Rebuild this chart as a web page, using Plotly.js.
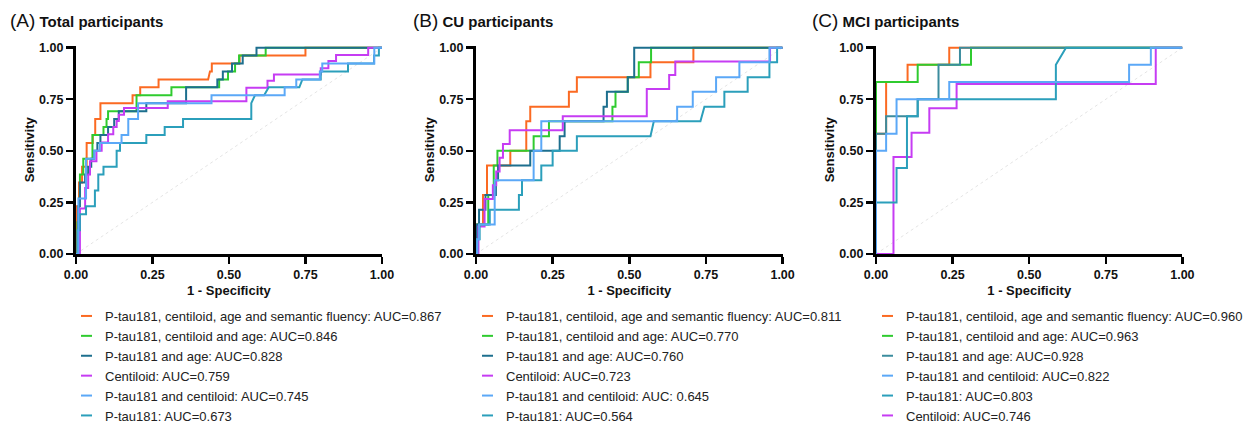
<!DOCTYPE html>
<html><head><meta charset="utf-8">
<script src="https://cdn.plot.ly/plotly-3.0.1.min.js"></script>
<style>html,body{margin:0;padding:0;background:#fff}#chart{width:1248px;height:431px}</style>
</head><body><div id="chart"></div>
<script>
// ---------- tick labels ----------
const tickVals = [0, 0.25, 0.5, 0.75, 1];
const tickText = ['0.00', '0.25', '0.50', '0.75', '1.00'];

// ---------- panel titles ----------
const panelLetters = ['(A)', '(B)', '(C)'];
const panelTitles = ['Total participants', 'CU participants', 'MCI participants'];

// ---------- legend labels ----------
const labelsA = ['P-tau181, centiloid, age and semantic fluency: AUC=0.867', 'P-tau181, centiloid and age: AUC=0.846', 'P-tau181 and age: AUC=0.828', 'Centiloid: AUC=0.759', 'P-tau181 and centiloid: AUC=0.745', 'P-tau181: AUC=0.673'];
const labelsB = ['P-tau181, centiloid, age and semantic fluency: AUC=0.811', 'P-tau181, centiloid and age: AUC=0.770', 'P-tau181 and age: AUC=0.760', 'Centiloid: AUC=0.723', 'P-tau181 and centiloid: AUC: 0.645', 'P-tau181: AUC=0.564'];
const labelsC = ['P-tau181, centiloid, age and semantic fluency: AUC=0.960', 'P-tau181, centiloid and age: AUC=0.963', 'P-tau181 and age: AUC=0.928', 'P-tau181 and centiloid: AUC=0.822', 'P-tau181: AUC=0.803', 'Centiloid: AUC=0.746'];

// ---------- (A) Total participants: 1-specificity / sensitivity ----------
const A_fluency_x = [0,0,0.01,0.01,0.02,0.02,0.035,0.035,0.055,0.055,0.063,0.063,0.08,0.08,0.185,0.185,0.21,0.21,0.27,0.27,0.432,0.438,0.444,0.444,0.535,0.535,0.75,0.75,1];
const A_fluency_y = [0,0.231,0.231,0.346,0.346,0.423,0.423,0.538,0.538,0.577,0.577,0.654,0.654,0.731,0.731,0.769,0.769,0.808,0.808,0.846,0.846,0.885,0.885,0.923,0.923,0.962,0.962,1,1];
const A_age3_x = [0,0.005,0.005,0.01,0.01,0.013,0.013,0.024,0.024,0.054,0.054,0.09,0.09,0.1,0.1,0.105,0.105,0.198,0.198,0.312,0.312,0.468,0.468,0.497,0.497,0.52,0.52,0.533,0.533,0.62,0.62,1];
const A_age3_y = [0,0,0.154,0.154,0.269,0.269,0.385,0.385,0.462,0.462,0.577,0.577,0.615,0.615,0.654,0.654,0.692,0.692,0.769,0.769,0.808,0.808,0.846,0.846,0.885,0.885,0.923,0.923,0.962,0.962,1,1];
const A_age2_x = [0,0.007,0.007,0.013,0.013,0.03,0.03,0.04,0.04,0.05,0.05,0.06,0.06,0.07,0.07,0.08,0.08,0.105,0.105,0.125,0.125,0.14,0.14,0.23,0.23,0.36,0.36,0.462,0.462,0.48,0.48,0.51,0.51,0.545,0.545,0.59,0.59,1];
const A_age2_y = [0,0,0.231,0.231,0.346,0.346,0.385,0.385,0.423,0.423,0.462,0.462,0.5,0.5,0.538,0.538,0.577,0.577,0.615,0.615,0.654,0.654,0.692,0.692,0.731,0.731,0.808,0.808,0.846,0.846,0.885,0.885,0.923,0.923,0.962,0.962,1,1];
const A_cent_x = [0,0.013,0.013,0.03,0.03,0.04,0.04,0.046,0.046,0.067,0.067,0.084,0.084,0.105,0.105,0.122,0.122,0.133,0.133,0.14,0.14,0.157,0.157,0.3,0.3,0.557,0.557,0.626,0.626,0.647,0.647,0.8,0.8,0.825,0.825,0.85,0.85,0.955,0.955,1];
const A_cent_y = [0,0,0.22,0.22,0.32,0.32,0.385,0.385,0.45,0.45,0.5,0.5,0.54,0.54,0.58,0.58,0.615,0.615,0.645,0.645,0.675,0.675,0.707,0.707,0.74,0.74,0.806,0.806,0.84,0.84,0.87,0.87,0.9,0.9,0.935,0.935,0.965,0.965,1,1];
const A_ptcent_x = [0,0.008,0.008,0.033,0.033,0.06,0.06,0.078,0.078,0.149,0.149,0.171,0.171,0.203,0.203,0.443,0.443,0.682,0.682,0.72,0.72,0.797,0.797,0.805,0.805,0.975,0.975,1];
const A_ptcent_y = [0,0,0.269,0.269,0.462,0.462,0.5,0.5,0.538,0.538,0.577,0.577,0.654,0.654,0.731,0.731,0.769,0.769,0.808,0.808,0.846,0.846,0.885,0.885,0.923,0.923,1,1];
const A_ptau_x = [0,0.005,0.005,0.013,0.013,0.033,0.033,0.062,0.062,0.073,0.073,0.09,0.09,0.133,0.133,0.144,0.144,0.23,0.23,0.29,0.29,0.35,0.35,0.573,0.573,0.585,0.615,0.63,0.73,0.74,0.8,0.8,0.889,0.889,0.974,0.974,0.99,0.99,1];
const A_ptau_y = [0,0,0.115,0.115,0.192,0.192,0.231,0.231,0.308,0.308,0.385,0.385,0.423,0.423,0.5,0.5,0.538,0.538,0.577,0.577,0.615,0.615,0.654,0.654,0.731,0.769,0.769,0.808,0.808,0.846,0.846,0.885,0.885,0.923,0.923,0.962,0.962,1,1];

// ---------- (B) CU participants ----------
const B_fluency_x = [0,0.003,0.003,0.023,0.023,0.036,0.036,0.112,0.112,0.164,0.164,0.177,0.177,0.303,0.303,0.329,0.329,0.569,0.569,0.709,0.709,1];
const B_fluency_y = [0,0,0.143,0.143,0.286,0.286,0.429,0.429,0.5,0.5,0.643,0.643,0.714,0.714,0.786,0.786,0.857,0.857,0.929,0.929,1,1];
const B_age3_x = [0,0.005,0.005,0.04,0.04,0.058,0.058,0.07,0.07,0.188,0.188,0.238,0.238,0.445,0.445,0.455,0.455,0.495,0.495,0.531,0.531,0.571,0.571,1];
const B_age3_y = [0,0,0.143,0.143,0.286,0.286,0.429,0.429,0.5,0.5,0.571,0.571,0.643,0.643,0.714,0.714,0.786,0.786,0.857,0.857,0.929,0.929,1,1];
const B_age2_x = [0,0.003,0.003,0.01,0.01,0.031,0.031,0.065,0.065,0.072,0.072,0.177,0.177,0.273,0.273,0.289,0.289,0.416,0.416,0.427,0.427,0.495,0.495,0.516,0.516,1];
const B_age2_y = [0,0,0.143,0.143,0.214,0.214,0.286,0.286,0.357,0.357,0.429,0.429,0.5,0.5,0.571,0.571,0.643,0.643,0.714,0.714,0.786,0.786,0.857,0.857,1,1];
const B_cent_x = [0,0.008,0.008,0.028,0.028,0.055,0.055,0.066,0.066,0.077,0.077,0.088,0.088,0.11,0.11,0.283,0.283,0.557,0.557,0.63,0.63,0.65,0.65,0.959,0.959,1];
const B_cent_y = [0,0,0.133,0.133,0.267,0.267,0.333,0.333,0.4,0.4,0.467,0.467,0.533,0.533,0.6,0.6,0.667,0.667,0.8,0.8,0.867,0.867,0.933,0.933,1,1];
const B_ptcent_x = [0,0.004,0.004,0.01,0.01,0.061,0.061,0.188,0.188,0.213,0.213,0.656,0.656,0.707,0.707,0.783,0.783,0.859,0.859,0.957,0.957,1];
const B_ptcent_y = [0,0,0.071,0.071,0.143,0.143,0.357,0.357,0.5,0.5,0.643,0.643,0.714,0.714,0.786,0.786,0.857,0.857,0.929,0.929,1,1];
const B_ptau_x = [0,0.004,0.004,0.012,0.012,0.045,0.045,0.14,0.14,0.15,0.15,0.213,0.213,0.25,0.25,0.329,0.329,0.569,0.58,0.732,0.745,0.81,0.81,0.886,0.886,0.957,0.957,0.982,0.982,1];
const B_ptau_y = [0,0,0.071,0.071,0.143,0.143,0.214,0.214,0.286,0.286,0.357,0.357,0.429,0.429,0.5,0.5,0.571,0.571,0.643,0.643,0.714,0.714,0.786,0.786,0.857,0.857,0.929,0.929,1,1];

// ---------- (C) MCI participants ----------
const C_fluency_x = [0,0,0.033,0.033,0.103,0.103,0.239,0.239,1];
const C_fluency_y = [0,0.583,0.583,0.833,0.833,0.917,0.917,1,1];
const C_age3_x = [0,0,0.136,0.136,0.31,0.31,1];
const C_age3_y = [0,0.833,0.833,0.917,0.917,1,1];
const C_age2_x = [0,0,0.033,0.033,0.136,0.136,0.204,0.204,0.274,0.274,1];
const C_age2_y = [0,0.583,0.583,0.667,0.667,0.75,0.75,0.917,0.917,1,1];
const C_ptcent_x = [0,0,0.033,0.033,0.067,0.067,0.239,0.239,0.826,0.826,0.897,0.897,1];
const C_ptcent_y = [0,0.5,0.5,0.583,0.583,0.75,0.75,0.833,0.833,0.917,0.917,1,1];
const C_ptau_x = [0,0,0.067,0.067,0.101,0.101,0.136,0.136,0.587,0.587,0.62,1];
const C_ptau_y = [0,0.25,0.25,0.417,0.417,0.667,0.667,0.75,0.75,0.917,1,1];
const C_cent_x = [0,0.057,0.057,0.116,0.116,0.174,0.174,0.263,0.263,0.913,0.913,1];
const C_cent_y = [0,0,0.47,0.47,0.588,0.588,0.706,0.706,0.824,0.824,1,1];

// reference (chance) line
const chanceX = [0, 1];
const chanceY = [0, 1];

// ---------- styling ----------
const FONT = 'Arial, "Liberation Sans", sans-serif';
const colors = {fluency:'#fb6a22', age3:'#2fcb2f', age2:'#1d6f8e', cent:'#c63cf3', ptcent:'#5ba8f7', ptau:'#2b9fbb'};
const colorsC = Object.assign({}, colors, {age2:'#3b8c9e'});

// draw order (bottom -> top); legend order handled by legendrank
const panels = [
  {xa:'x', ya:'y', lg:'legend', pal:colors, series:[
    ['fluency', A_fluency_x, A_fluency_y, labelsA[0], 1],
    ['age3', A_age3_x, A_age3_y, labelsA[1], 2],
    ['age2', A_age2_x, A_age2_y, labelsA[2], 3],
    ['cent', A_cent_x, A_cent_y, labelsA[3], 4],
    ['ptau', A_ptau_x, A_ptau_y, labelsA[5], 6],
    ['ptcent', A_ptcent_x, A_ptcent_y, labelsA[4], 5]]},
  {xa:'x2', ya:'y2', lg:'legend2', pal:colors, series:[
    ['fluency', B_fluency_x, B_fluency_y, labelsB[0], 1],
    ['age3', B_age3_x, B_age3_y, labelsB[1], 2],
    ['age2', B_age2_x, B_age2_y, labelsB[2], 3],
    ['cent', B_cent_x, B_cent_y, labelsB[3], 4],
    ['ptau', B_ptau_x, B_ptau_y, labelsB[5], 6],
    ['ptcent', B_ptcent_x, B_ptcent_y, labelsB[4], 5]]},
  {xa:'x3', ya:'y3', lg:'legend3', pal:colorsC, series:[
    ['fluency', C_fluency_x, C_fluency_y, labelsC[0], 1],
    ['age3', C_age3_x, C_age3_y, labelsC[1], 2],
    ['age2', C_age2_x, C_age2_y, labelsC[2], 3],
    ['cent', C_cent_x, C_cent_y, labelsC[5], 6],
    ['ptau', C_ptau_x, C_ptau_y, labelsC[4], 5],
    ['ptcent', C_ptcent_x, C_ptcent_y, labelsC[3], 4]]}
];

const traces = [];
panels.forEach(p => {
  traces.push({type:'scatter', mode:'lines', x:chanceX, y:chanceY, xaxis:p.xa, yaxis:p.ya,
    line:{color:'#e4e4e4', width:1, dash:'dot'}, showlegend:false, hoverinfo:'skip'});
  p.series.forEach(s => {
    traces.push({type:'scatter', mode:'lines', x:s[1], y:s[2], xaxis:p.xa, yaxis:p.ya,
      name:s[3], legend:p.lg, legendrank:s[4],
      line:{color:p.pal[s[0]], width:2}});
  });
});

const yDom = [0.4107, 0.8942];
const xDoms = [[0.0609, 0.3063], [0.3817, 0.6276], [0.7025, 0.9482]];

function xAxis(dom, anchor) {
  return {domain:dom, anchor:anchor, range:[0,1], tickmode:'array', tickvals:tickVals, ticktext:tickText,
    ticks:'outside', ticklen:7, tickwidth:2.5, tickcolor:'#000',
    showline:true, linewidth:3, linecolor:'#000', showgrid:false, zeroline:false, layer:'below traces',
    tickfont:{family:FONT, size:12.5, color:'#111', weight:'bold'},
    title:{text:'1 - Specificity', font:{family:FONT, size:13, color:'#111', weight:'bold'}, standoff:5},
    fixedrange:true};
}
function yAxis(anchor) {
  return {domain:yDom, anchor:anchor, range:[0,1.01], tickmode:'array', tickvals:tickVals, ticktext:tickText,
    ticks:'outside', ticklen:7, tickwidth:2.5, tickcolor:'#000',
    showline:true, linewidth:3, linecolor:'#000', showgrid:false, zeroline:false, layer:'below traces',
    tickfont:{family:FONT, size:12.5, color:'#111', weight:'bold'},
    title:{text:'Sensitivity', font:{family:FONT, size:13, color:'#111', weight:'bold'}, standoff:2},
    fixedrange:true};
}

const legendBase = (x) => ({x:x, xanchor:'left', y:0.3016, yanchor:'top', orientation:'v',
  bgcolor:'rgba(0,0,0,0)', borderwidth:0, font:{family:FONT, size:13, color:'#222'},
  itemwidth:30, tracegroupgap:0, traceorder:'normal'});

const titleX = [8/1248, 411/1248, 811/1248];
const annotations = panelLetters.map((L, i) => ({
  xref:'paper', yref:'paper', x:titleX[i], xanchor:'left', y:(431-20)/431, yanchor:'middle',
  text:'<span style="font-size:19px">' + L + '</span> <b>' + panelTitles[i] + '</b>',
  showarrow:false, font:{family:FONT, size:15, color:'#111'}
}));

const layout = {
  width:1248, height:431, margin:{l:0, r:0, t:0, b:0},
  paper_bgcolor:'#fff', plot_bgcolor:'#fff', showlegend:true,
  xaxis:xAxis(xDoms[0], 'y'), yaxis:yAxis('x'),
  xaxis2:xAxis(xDoms[1], 'y2'), yaxis2:yAxis('x2'),
  xaxis3:xAxis(xDoms[2], 'y3'), yaxis3:yAxis('x3'),
  legend:legendBase(65/1248), legend2:legendBase(466/1248), legend3:legendBase(867/1248),
  annotations:annotations
};

Plotly.newPlot('chart', traces, layout, {staticPlot:true, displayModeBar:false}).then(gd => {
  gd.querySelectorAll('.legendlines path').forEach(p => p.setAttribute('d', 'M16,0h11'));
});
</script>
</body></html>
